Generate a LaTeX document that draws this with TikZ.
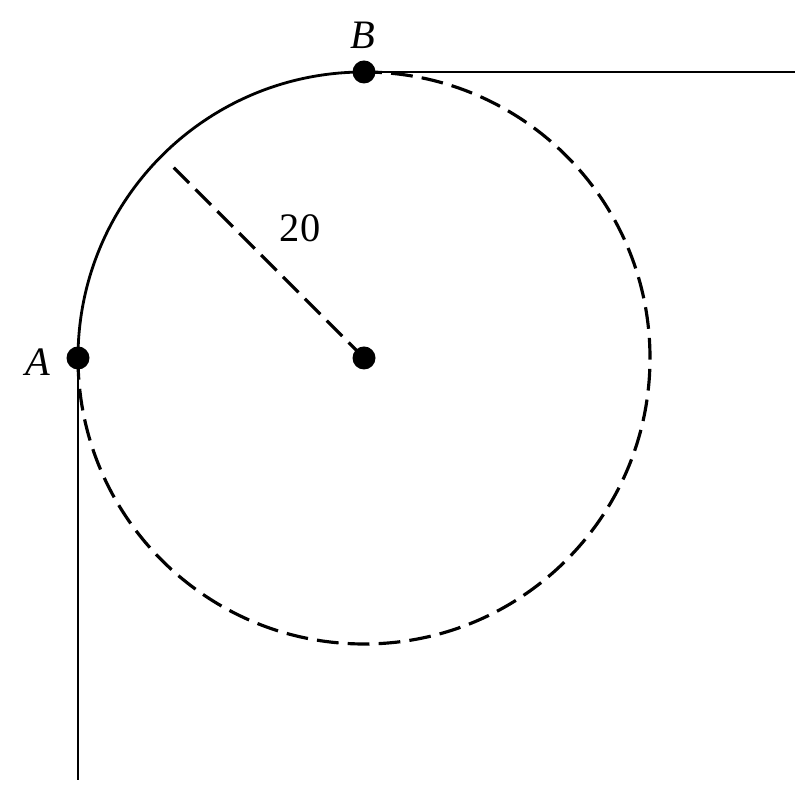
\documentclass[tikz,border=0pt]{standalone}
\usepackage{fontspec}
\setmainfont{Liberation Serif}
\usetikzlibrary{calc}

\tikzset{
  wire/.style={line width=0.8pt},
  dashwire/.style={line width=0.9pt, dash pattern=on 6.2pt off 2.6pt},
  pt/.style={circle, fill=black, inner sep=0pt, minimum size=0.23cm},
  lbl/.style={font=\fontsize{11.5}{13}\selectfont}
}

\begin{document}
\begin{tikzpicture}
\useasboundingbox (0,0) rectangle (8.08,7.97);

\coordinate (O) at (3.64,4.39);
\coordinate (A) at (0.78,4.39);
\coordinate (B) at (3.64,7.25);
\coordinate (Aend) at (0.78,0.17);
\coordinate (Bend) at (7.95,7.25);
\coordinate (R) at ($(O)+(135:2.75)$);

% circle: solid from B to A, dashed the rest
\draw[wire] (B) arc (90:180:2.86);
\draw[dashwire] (A) arc (180:450:2.86);

% tangent lines
\draw[wire] (A) -- (Aend);
\draw[wire] (B) -- (Bend);

% radius
\draw[dashwire] (O) -- (R);

\node[pt] (dotO) at (O) {};
\node[pt] (dotA) at (A) {};
\node[pt] (dotB) at (B) {};

\node[lbl] (labA) at (0.38,4.35) {\textit{A}};
\node[lbl] (labB) at (3.63,7.62) {\textit{B}};
\node[lbl] (lab20) at (3.00,5.69) {20};
\end{tikzpicture}
\end{document}
